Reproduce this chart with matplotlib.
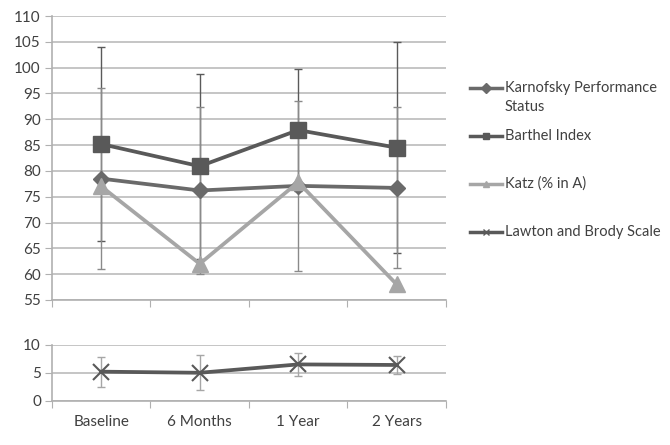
import matplotlib
matplotlib.use("Agg")
import matplotlib.pyplot as plt
import numpy as np

categories = ["Baseline", "6 Months", "1 Year", "2 Years"]
karnofsky = [78.5, 76.2, 77.1, 76.7]
karnofsky_err = [17.5, 16.1, 16.4, 15.6]
barthel = [85.2, 80.9, 87.9, 84.5]
barthel_err = [18.8, 17.9, 11.8, 20.5]
katz = [77.0, 62.0, 77.8, 58.0]
lawton = [5.2, 5.0, 6.5, 6.4]
lawton_err = [2.7, 3.1, 2.1, 1.6]

plt.rcParams['font.family'] = ['Lato', 'DejaVu Sans']
txt = '#404040'
grid_c = '#c0c0c0'

fig = plt.figure(figsize=(6.7, 4.45), dpi=100)
ax1 = fig.add_axes([0.0776, 0.326, 0.588, 0.638])
ax2 = fig.add_axes([0.0776, 0.0996, 0.588, 0.1254])

x = np.arange(len(categories)) + 0.5

def style(ax, ymin, ymax, step):
    ax.set_xlim(0, len(categories))
    ax.set_ylim(ymin, ymax)
    ax.set_yticks(np.arange(ymin, ymax + 0.1, step))
    ax.yaxis.grid(True, color=grid_c, linewidth=1.3)
    ax.set_axisbelow(True)
    for s in ['top', 'right']:
        ax.spines[s].set_visible(False)
    for s in ['left', 'bottom']:
        ax.spines[s].set_color('#b0b0b0')
        ax.spines[s].set_linewidth(1.2)
    ax.set_xticks(np.arange(len(categories) + 1), minor=False)
    ax.tick_params(axis='x', length=5, color='#b0b0b0', labelbottom=False)
    ax.tick_params(axis='y', length=5, color='#b0b0b0', labelsize=11, labelcolor=txt, pad=3)

style(ax1, 55, 110, 5)
style(ax2, 0, 10, 5)

# error bars
ax1.errorbar(x, barthel, yerr=barthel_err, fmt='none', ecolor='#5a5a5a', elinewidth=1, capsize=3, capthick=1, zorder=2)
ax1.errorbar(x, karnofsky, yerr=karnofsky_err, fmt='none', ecolor='#8a8a8a', elinewidth=1, capsize=3, capthick=1, zorder=2)

l1, = ax1.plot(x, karnofsky, color='#6a6a6a', lw=2.7, marker='D', ms=8, zorder=3)
l2, = ax1.plot(x, barthel, color='#595959', lw=2.7, marker='s', ms=11, zorder=4)
l3, = ax1.plot(x, katz, color='#a6a6a6', lw=2.7, marker='^', ms=11, zorder=5)

ax2.errorbar(x, lawton, yerr=lawton_err, fmt='none', ecolor='#a6a6a6', elinewidth=1, capsize=3, capthick=1, zorder=2)
l4, = ax2.plot(x, lawton, color='#595959', lw=2.7, marker='x', ms=11, mew=1.5, zorder=3)

for xi, c in zip(x, categories):
    ax2.text(xi, -2.5, c, ha='center', va='top', fontsize=11, color=txt)

# legend entries
handles = [l1, l2, l3, l4]
labels = [['Karnofsky Performance', 'Status'], ['Barthel Index'], ['Katz (% in A)'], ['Lawton and Brody Scale']]
ys = [88, 136, 184, 232]
for h, lab, yy in zip(handles, labels, ys):
    yf = 1 - yy / 445
    fig.add_artist(plt.Line2D([470/670, 502/670], [yf, yf], color=h.get_color(), lw=2.5, transform=fig.transFigure))
    fig.add_artist(plt.Line2D([486/670], [yf], color=h.get_color(), marker=h.get_marker(), ms=5, mew=1, transform=fig.transFigure))
    for i, line in enumerate(lab):
        fig.text(505/670, 1 - (yy + 19 * i) / 445, line, ha='left', va='center', fontsize=10.5, color=txt)

fig.savefig('out.png', dpi=100)
